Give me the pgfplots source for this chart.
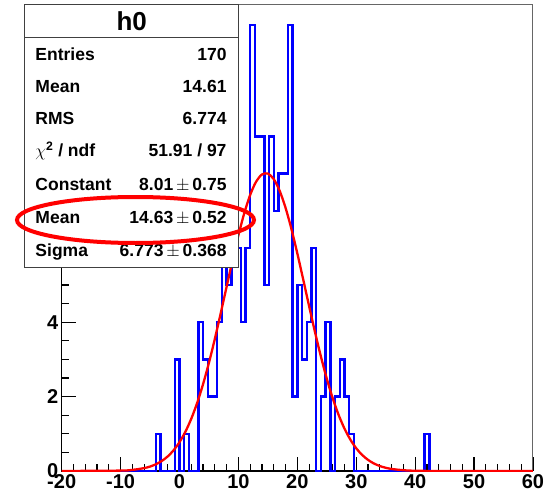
\documentclass[border=0pt]{standalone}
\usepackage{fontspec}
\setmainfont{Liberation Sans}
\usepackage{pgfplots}
\pgfplotsset{compat=1.18}
\begin{document}
\begin{tikzpicture}[x=1pt,y=1pt]
\useasboundingbox (-61.7,-25) rectangle (494.3,471);
\begin{axis}[
  scale only axis,
  width=471.3pt, height=466.3pt,
  xmin=-20, xmax=60, ymin=0, ymax=12.54,
  axis line style={black!60, line width=1pt},
  tick align=inside,
  tick pos=left,
  xtick={-20,-10,...,60}, minor x tick num=4,
  ytick={0,2,...,12}, minor y tick num=3,
  xticklabels={-20,-10,0,10,20,30,40,50,60},
  yticklabels={0,2,4,6,8,10,12},
  major tick length=14pt, minor tick length=7pt,
  tick style={black, line width=1.2pt},
  ticklabel style={font=\fontsize{20}{22}\selectfont\bfseries},
  clip mode=individual,
]
% black left and bottom axis, under the plots
\draw[black, line width=1.2pt] (rel axis cs:0,1) -- (rel axis cs:0,0) -- (rel axis cs:1,0);
% histogram h0, 100 bins of 0.8 from -20 to 60 (left edges, counts)
\addplot[blue, line width=2.4pt, const plot mark left] coordinates {
  (-20,0) (-4.0,1) (-3.2,0) (-0.8,3) (0,0) (0.8,1) (1.6,0)
  (3.2,4) (4.0,3) (4.8,2) (6.4,4) (7.2,9) (8.0,5) (8.8,6)
  (10.4,4) (11.2,6) (12.0,12) (12.8,9) (14.4,5) (15.2,9) (16.0,7)
  (16.8,8) (18.4,12) (19.2,2) (20.0,5) (20.8,3) (21.6,4) (22.4,6)
  (23.2,0) (24.0,2) (24.8,4) (25.6,0) (26.4,2) (27.2,3) (28.0,2)
  (28.8,1) (29.6,0) (41.6,1) (42.4,0) (60,0)
};
% gaussian fit curve
\addplot[red, line width=2.3pt, smooth] coordinates {
  (-20,0) (-10,0.011) (-8,0.030) (-6,0.078) (-5,0.120) (-4,0.182)
  (-3,0.271) (-2,0.393) (-1,0.559) (0,0.777) (1,1.057) (2,1.408)
  (3,1.834) (4,2.338) (5,2.915) (6,3.557) (7,4.247) (8,4.961)
  (9,5.670) (10,6.341) (11,6.939) (12,7.428) (13,7.781) (14,7.975)
  (15,7.998) (16,7.848) (17,7.534) (18,7.077) (19,6.505) (20,5.849)
  (21,5.147) (22,4.431) (23,3.733) (24,3.077) (25,2.481) (26,1.958)
  (27,1.511) (28,1.141) (29,0.844) (30,0.610) (31,0.432) (32,0.299)
  (33,0.202) (34,0.134) (35,0.087) (36,0.055) (38,0.021) (40,0.007)
  (45,0) (60,0)
};
\end{axis}
% stats box
\fill[white] (-36.7,203.7) rectangle (176.8,466.3);
\draw[black!75, line width=1pt] (-36.7,203.7) rectangle (176.8,466.3);
\draw[black!75, line width=1pt] (-36.7,433.7) -- (176.8,433.7);
\node[font=\fontsize{26}{28}\selectfont\bfseries] at (70,450) {h0};
\begin{scope}[every node/.style={font=\fontsize{17.5}{19}\selectfont\bfseries, inner sep=0pt}]
\node[anchor=base west] at (-26.4,410) {Entries};
\node[anchor=base east] at (165,410) {170};
\node[anchor=base west] at (-26.4,378.3) {Mean};
\node[anchor=base east] at (165,378.3) {14.61};
\node[anchor=base west] at (-26.4,346) {RMS};
\node[anchor=base east] at (165,346) {6.774};
\node[anchor=base west] at (-26.4,314) {$\chi$\textsuperscript{2} / ndf};
\node[anchor=base east] at (165,314) {51.91 / 97};
\node[anchor=base west] at (-26.4,280.3) {Constant};
\node[anchor=base east] at (165,280.3) {8.01$\,\pm\,$0.75};
\node[anchor=base west] at (-26.4,248) {Mean};
\node[anchor=base east] at (165,248) {14.63$\,\pm\,$0.52};
\node[anchor=base west] at (-26.4,215) {Sigma};
\node[anchor=base east] at (165,215) {6.773$\,\pm\,$0.368};
\end{scope}
\draw[red, line width=4pt] (73.8,251) ellipse [x radius=118.5, y radius=23];
\end{tikzpicture}
\end{document}
